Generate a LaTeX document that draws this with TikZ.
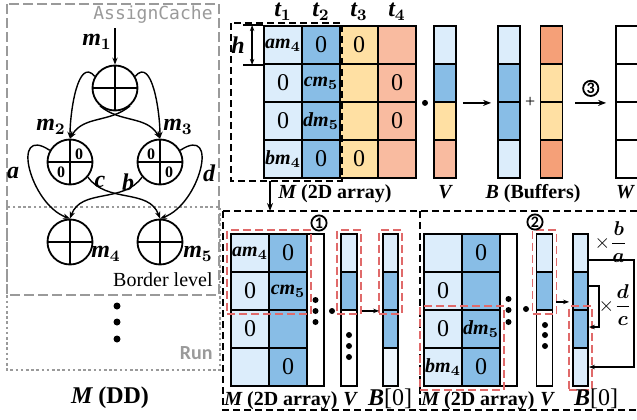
\documentclass[tikz,border=0pt]{standalone}
\usepackage{fontspec}
\setmainfont{Liberation Serif}
\newfontfamily\codefont{DejaVu Sans Mono}
\newfontfamily\tagfont{Carlito}
\usepackage{amsmath,bm}
\usetikzlibrary{arrows.meta,positioning,fit,calc}
\definecolor{lb}{HTML}{DCEDFB}
\definecolor{mb}{HTML}{88BDE6}
\definecolor{yl}{HTML}{FFE0A3}
\definecolor{sa}{HTML}{F9BBA0}
\definecolor{og}{HTML}{F5A078}
\definecolor{pb}{HTML}{EEF6FD}
\definecolor{rd}{HTML}{E06A6A}
\definecolor{gr}{HTML}{9A9A9A}
\newcommand{\bs}[1]{{\bfseries\itshape #1}}
\newcommand{\bsub}[2]{{\bfseries\itshape #1}$_{\bm{#2}}$}
\newcommand{\wm}[2]{{\normalsize\bsub{#1m}{#2}}}
\tikzset{
  cell/.style={draw,line width=0.9pt,minimum width=19pt,minimum height=19pt,inner sep=0pt,font=\large},
  vec/.style={cell,minimum width=11pt},
  svec/.style={cell,minimum width=8pt},
  lab/.style={inner sep=1pt,text height=7pt,text depth=2pt},
  num/.style={circle,draw,line width=0.9pt,minimum size=7.6pt,inner sep=0pt,font=\tagfont\bfseries\footnotesize},
  dd/.style={circle,draw,line width=0.9pt,minimum size=22.5pt,inner sep=0pt,
    path picture={\draw[line width=0.9pt] (path picture bounding box.north) -- (path picture bounding box.south)
      (path picture bounding box.west) -- (path picture bounding box.east);}},
  zero/.style={inner sep=0pt,font=\footnotesize\bfseries},
  ddar/.style={-{Stealth[length=3.5pt]},line width=0.7pt},
  ar/.style={-{Stealth[length=4pt]},line width=0.8pt},
  dbox/.style={line width=0.7pt,dash pattern=on 3.5pt off 2pt},
  rbox/.style={draw=rd,line width=0.8pt,dash pattern=on 4pt off 2pt,inner sep=1.5pt},
  gdash/.style={draw=gr,line width=1pt,dash pattern=on 5pt off 2pt},
  gdot/.style={draw=gr,line width=1.3pt,dash pattern=on 1.3pt off 1.3pt},
}

\begin{document}
\begin{tikzpicture}[x=0.5pt,y=0.5pt,font=\normalsize]
\useasboundingbox (0,0) rectangle (637,419);
% M (DD)
\draw[gdash] (7,415) rectangle (219,124);
\draw[gdot] (7,212) rectangle (220,49);
\node[anchor=east,inner sep=0pt,text=gr,font=\codefont\fontsize{9}{10}\selectfont] (acl) at (213,404) {AssignCache};
\node[anchor=east,inner sep=0pt] (bll) at (213,139) {Border level};
\node[anchor=east,inner sep=0pt,text=gr,font=\tagfont\bfseries] (runl) at (213,66) {Run};
\node[dd] (m1) at (115,331) {};
\node[dd] (m2) at (70,257) {};
\node[dd] (m3) at (160,257) {};
\node[dd] (m4) at (70,177) {};
\node[dd] (m5) at (160,177) {};
\node[zero] at ($(m2)+(9,8)$) {0};
\node[zero] at ($(m2)+(-9,-10)$) {0};
\node[zero] at ($(m3)+(-9,8)$) {0};
\node[zero] at ($(m3)+(9,-10)$) {0};
\node[font=\large] (lm1) at (97,377) {\bsub{m}{1}};
\node[font=\large] (lm2) at (51,292) {\bsub{m}{2}};
\node[font=\large] (lm3) at (178,292) {\bsub{m}{3}};
\node[font=\large] (lm4) at (106,165) {\bsub{m}{4}};
\node[font=\large] (lm5) at (198,165) {\bsub{m}{5}};
\coordinate (in1) at (115,391);
\draw[ddar] (in1) -- (m1);
\draw[ddar] (m1.150) to[out=130,in=90] (m2.north);
\draw[ddar] (m1.30) to[out=50,in=90] (m3.north);
\draw[ddar] (m1.-50) to[out=-140,in=60] (m2.north);
\draw[ddar] (m1.-130) to[out=-40,in=120] (m3.north);
\draw[ddar] (m2.150) .. controls (10,295) and (30,215) .. (m4.north);
\draw[ddar] (m3.30) .. controls (220,295) and (200,215) .. (m5.north);
\draw[ddar] (m2.-40) to[out=-55,in=110] (m5.north);
\draw[ddar] (m3.-140) to[out=-125,in=70] (m4.north);
\node[font=\large] (la) at (13,246) {\bs{a}};
\node[font=\large] (lb) at (100,237) {\bs{c}};
\node[font=\large] (lc) at (128,237) {\bs{b}};
\node[font=\large] (ld) at (209,246) {\bs{d}};
\foreach \yy in {113,97,80} \fill (117,\yy) circle[radius=1.75pt];
\node[font=\large\bfseries] (ldd) at (110,21) {\bs{M} (DD)};
% M (2D array), V, B, W
\foreach \ea/\eb/\ec/\ed [count=\rw] in {{\wm a4}/0/0/{},0/{\wm c5}/{}/0,0/{\wm d5}/{}/0,{\wm b4}/0/0/{}}{
  \node[cell,fill=lb] (M\rw-1) at (283,412-38*\rw) {\ea};
  \node[cell,fill=mb] (M\rw-2) at (321,412-38*\rw) {\eb};
  \node[cell,fill=yl] (M\rw-3) at (359,412-38*\rw) {\ec};
  \node[cell,fill=sa] (M\rw-4) at (397,412-38*\rw) {\ed};
}
\foreach \fc [count=\rw] in {lb,mb,yl,sa} \node[vec,fill=\fc] (V\rw) at (445,412-38*\rw) {};
\foreach \fc [count=\rw] in {lb,mb,mb,lb} \node[vec,fill=\fc] (Bl\rw) at (509,412-38*\rw) {};
\foreach \fc [count=\rw] in {og,yl,yl,og} \node[vec,fill=\fc] (Br\rw) at (551.5,412-38*\rw) {};
\foreach \rw in {1,...,4} \node[vec] (W\rw) at (627,412-38*\rw) {};
\foreach \cn [count=\cc] in {283,321,359,397} \node[font=\large] (t\cc) at (\cn,407) {\bsub{t}{\cc}};
\draw[dbox] (231,396) rectangle (342,238);
\draw[line width=0.8pt] (M1-1.north west) -- ++(-20,0);
\draw[line width=0.8pt] (M1-1.south west) -- ++(-20,0);
\draw[{Stealth[length=3pt]}-{Stealth[length=3pt]},line width=0.8pt] ([xshift=-5.5pt]M1-1.north west) -- ([xshift=-5.5pt]M1-1.south west);
\node[font=\large] (lh) at (238,374) {\bs{h}};
\fill ($(M2-4.south east)!0.5!(V2.south west)$) circle[radius=1.5pt];
\draw[ar] ([xshift=3pt]V2.south east) -- ([xshift=-3pt]Bl2.south west);
\node[font=\small] (plus) at ($(Bl2.south east)!0.5!(Br2.south west)$) {+};
\draw[ar] ([xshift=6pt]Br2.south east) -- ([xshift=-4.5pt]W2.south west) node[midway,above=3pt,num] (n3) {3};
\node[lab,font=\bfseries] (lM) at (335,226) {\bs{M} (2D array)};
\node[lab] (lV) at (445,226) {\bs{V}};
\node[lab,font=\bfseries] (lB) at (533,226) {\bs{B} (Buffers)};
\node[lab] (lW) at (625,226) {\bs{W}};
\coordinate (mdown) at (270,238);
\coordinate (pin) at (270,208);
\draw[ar] (mdown) -- (pin);
% steps 1 and 2
\draw[dbox] (223,208) rectangle (660,9);
\draw[dbox] (420,208) -- (420,9);
\foreach \ea/\eb [count=\rw] in {{\wm a4}/0,0/{\wm c5},0/{},{}/0}{
  \node[cell,fill=lb] (Pa\rw-1) at (250,204-38*\rw) {\ea};
  \node[cell,fill=mb] (Pa\rw-2) at (288,204-38*\rw) {\eb};
}
\node[cell,minimum width=8.5pt,minimum height=76pt] (Pa-col) at (315.5,109) {};
\node[svec,fill=lb] (Va1) at (349,166) {};
\node[svec,fill=mb] (Va2) at (349,128) {};
\node[svec,minimum height=38pt] (Va3) at (349,71) {};
\foreach \fc [count=\rw] in {lb,mb,mb,pb} \node[svec,minimum width=7.5pt,fill=\fc] (Ba\rw) at (390.5,204-38*\rw) {};
\node[rbox,fit=(Pa1-1)(Pa2-2)] (ra1) {};
\node[rbox,fit=(Va1)(Va2)] (ra2) {};
\node[rbox,fit=(Ba1)(Ba2)] (ra3) {};
\foreach \yy in {119,108,97} \fill (315.5,\yy) circle[radius=1.5pt];
\foreach \yy in {84,73,62} \fill (349,\yy) circle[radius=1.5pt];
\fill (332,108) circle[radius=1.5pt];
\draw[ar,-{Stealth[length=3pt]}] ([xshift=2pt]Va2.south east) -- ([xshift=-1.5pt]Ba2.south west);
\node[num] (n1) at (319,196) {1};
\node[lab,font=\bfseries] (lMa) at (281,19) {\bs{M} (2D array)};
\node[lab] (lVa) at (350,19) {\bs{V}};
\node[lab,font=\large] (lBa) at (390,19) {\bs{B}[0]};
\foreach \ea/\eb [count=\rw] in {{}/0,0/{},0/{\wm d5},{\wm b4}/0}{
  \node[cell,fill=lb] (Pb\rw-1) at (443,204-38*\rw) {\ea};
  \node[cell,fill=mb] (Pb\rw-2) at (481,204-38*\rw) {\eb};
}
\node[cell,minimum width=8.5pt,minimum height=76pt] (Pb-col) at (508.5,109) {};
\node[svec,fill=lb] (Vb1) at (544.5,166) {};
\node[svec,fill=mb] (Vb2) at (544.5,128) {};
\node[svec,minimum height=38pt] (Vb3) at (544.5,71) {};
\foreach \fc [count=\rw] in {lb,mb,mb,lb} \node[svec,minimum width=7.5pt,fill=\fc] (Bb\rw) at (580.5,204-38*\rw) {};
\node[rbox,fit=(Pb3-1)(Pb4-2)] (rb1) {};
\node[rbox,fit=(Vb1)(Vb2)] (rb2) {};
\node[rbox,fit=(Bb3)(Bb4)] (rb3) {};
\foreach \yy in {120,109,97} \fill (508.5,\yy) circle[radius=1.5pt];
\foreach \yy in {94,84,73} \fill (545,\yy) circle[radius=1.5pt];
\fill (526,110) circle[radius=1.5pt];
\draw[ar,-{Stealth[length=3pt]}] ([shift={(1.5pt,4.5pt)}]Vb2.south east) -- ([shift={(-1.5pt,4.5pt)}]Bb2.south west);
\node[num] (n2) at (535,197) {2};
\draw[ar,-{Stealth[length=3pt]}] ([yshift=-3.5pt]Bb1.east) -- ++(45,0) |- (Bb4.east);
\draw[ar,-{Stealth[length=3pt]}] ([yshift=2.5pt]Bb2.east) -- ++(10,0) |- ([yshift=1pt]Bb3.east);
\node (fba) at (611,177) {$\times\dfrac{\bm{b}}{\bm{a}}$};
\node (fdc) at (615,114) {$\times\dfrac{\bm{d}}{\bm{c}}$};
\node[lab,font=\bfseries] (lMb) at (478,19) {\bs{M} (2D array)};
\node[lab] (lVb) at (547,19) {\bs{V}};
\node[lab,font=\large] (lBb) at (596,19) {\bs{B}[0]};
\end{tikzpicture}
\end{document}
